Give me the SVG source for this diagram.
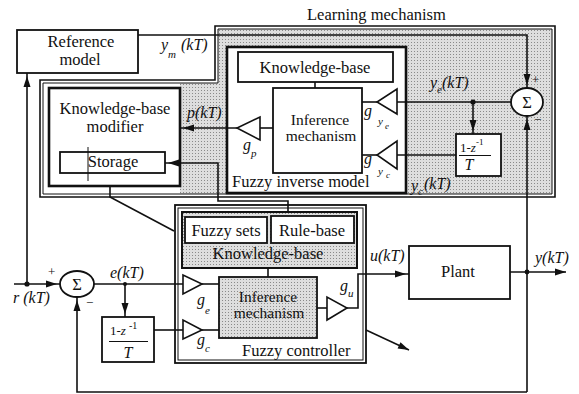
<svg xmlns="http://www.w3.org/2000/svg" width="579" height="394" viewBox="0 0 579 394">
  <defs>
    <pattern id="dots" width="3" height="3" patternUnits="userSpaceOnUse">
      <rect width="3" height="3" fill="#dedede"/>
      <rect width="1" height="1" fill="#8a8a8a"/>
    </pattern>
    <!-- arrowhead whose tip stops a little before the line end -->
    <marker id="arr" markerUnits="userSpaceOnUse" markerWidth="16" markerHeight="8" refX="14" refY="3.5" orient="auto" overflow="visible">
      <path d="M0,0 L11,3.5 L0,7 z" fill="#111"/>
    </marker>
    <!-- arrowhead whose tip sits on the line end -->
    <marker id="arrEnd" markerUnits="userSpaceOnUse" markerWidth="12" markerHeight="8" refX="11" refY="3.5" orient="auto" overflow="visible">
      <path d="M0,0 L11,3.5 L0,7 z" fill="#111"/>
    </marker>
    <style>
      .bx { fill:#fff; stroke:#111; stroke-width:1.8 }
      .thk { stroke-width:2.6 }
      .sh { fill:url(#dots) }
      .ln { fill:none; stroke:#111; stroke-width:1.6 }
      .thin { fill:none; stroke:#111; stroke-width:1 }
      .tri { fill:#fff; stroke:#111; stroke-width:1.6 }
      text { font-family:'Liberation Serif','DejaVu Serif',serif; fill:#111 }
      .t { font-size:16.5px }
      .ti { font-size:15.5px }
      .m { font-size:16px; font-style:italic }
      .s { font-size:11px; font-style:italic }
      .ss { font-size:9px; font-style:italic }
      .sg { font-size:13px }
      .c { text-anchor:middle }
    </style>
  </defs>

  <rect width="579" height="394" fill="#fff"/>

  <!-- Learning mechanism: L-shaped outline with stippled background -->
  <g id="learning-mechanism">
    <path d="M218,29 H552 V194 H180 V83 H218 z" class="sh"/>
    <path d="M215,26 H555 V197 H40 V80 H215 z" fill="none" stroke="#111" stroke-width="1.6"/>
    <path d="M218,29 H552 V194 H43 V83 H218 z" fill="none" stroke="#111" stroke-width="1"/>
    <text x="307" y="20" class="t">Learning mechanism</text>
  </g>

  <g id="reference-model">
    <rect x="17" y="30" width="121" height="43" class="bx"/>
    <text x="81" y="47" class="t c">Reference</text>
    <text x="80" y="65" class="t c">model</text>
  </g>

  <g id="kb-modifier">
    <rect x="49" y="88" width="131" height="98" class="bx thk"/>
    <text x="115" y="114" class="t c">Knowledge-base</text>
    <text x="115" y="132" class="t c">modifier</text>
  </g>

  <g id="storage">
    <rect x="60" y="152" width="105" height="21" class="bx"/>
    <text x="113" y="167" class="t c">Storage</text>
    <path d="M88,147 V181" class="thin"/>
  </g>

  <g id="fuzzy-inverse-model">
    <rect x="227" y="47" width="179" height="146" class="bx thk"/>
    <text x="232" y="187" class="t">Fuzzy inverse model</text>
  </g>

  <g id="inverse-kb">
    <rect x="238" y="52" width="155" height="30" class="bx"/>
    <text x="315" y="73" class="t c">Knowledge-base</text>
  </g>

  <g id="inverse-inference">
    <rect x="273" y="88" width="89" height="85" class="bx"/>
    <text x="320" y="125" class="ti c">Inference</text>
    <text x="321" y="141" class="ti c">mechanism</text>
  </g>

  <g id="gain-p">
    <path d="M260,117 L260,140 L237,128 z" class="tri"/>
    <text x="243" y="150" class="m">g</text><text x="251" y="157" class="s">p</text>
  </g>

  <g id="gain-ye">
    <path d="M397,89 L397,114 L377,102 z" class="tri"/>
    <text x="364" y="116" class="m">g</text><text x="378" y="125" class="s">y</text><text x="385" y="129" class="ss">e</text>
  </g>

  <g id="gain-yc">
    <path d="M397,141 L397,169 L377,155 z" class="tri"/>
    <text x="364" y="164" class="m">g</text><text x="378" y="175" class="s">y</text><text x="386" y="178" class="ss">c</text>
  </g>

  <g id="inverse-diff">
    <rect x="456" y="134" width="45" height="42" class="bx"/>
    <text x="460" y="152" class="sg">1-<tspan font-style="italic">z</tspan><tspan font-size="9" dy="-7">-1</tspan></text>
    <path d="M459,155.5 H491" class="thin"/>
    <text x="469" y="170" class="m c">T</text>
  </g>

  <g id="learning-sum">
    <ellipse cx="527" cy="102" rx="16" ry="14" class="bx"/>
    <text x="527" y="108" class="t c">Σ</text>
    <text x="532" y="84" class="sg">+</text>
    <text x="534" y="124" class="sg">−</text>
  </g>

  <g id="fuzzy-controller">
    <rect x="175" y="205" width="191" height="158" class="bx" stroke-width="1.6"/>
    <rect x="178" y="208" width="185" height="152" fill="none" stroke="#111" stroke-width="1"/>
    <text x="242" y="356" class="t">Fuzzy controller</text>
  </g>

  <g id="controller-kb">
    <rect x="182" y="212" width="175" height="56" class="sh" stroke="#111" stroke-width="2"/>
    <text x="268" y="259" class="t c">Knowledge-base</text>
  </g>

  <g id="fuzzy-sets">
    <rect x="185" y="217" width="82" height="26" class="bx"/>
    <text x="226" y="236" class="t c">Fuzzy sets</text>
  </g>

  <g id="rule-base">
    <rect x="271" y="216" width="83" height="27" class="bx"/>
    <text x="312" y="236" class="t c">Rule-base</text>
  </g>

  <g id="controller-inference">
    <rect x="219" y="277" width="98" height="61" class="sh" stroke="#111" stroke-width="1.8"/>
    <text x="268" y="302" class="ti c">Inference</text>
    <text x="269" y="318" class="ti c">mechanism</text>
  </g>

  <g id="gain-e">
    <path d="M183,275 L183,294 L202,284 z" class="tri"/>
    <text x="197" y="305" class="m">g</text><text x="205" y="314" class="s">e</text>
  </g>

  <g id="gain-c">
    <path d="M183,320 L183,339 L202,330 z" class="tri"/>
    <text x="197" y="345" class="m">g</text><text x="205" y="352" class="s">c</text>
  </g>

  <g id="gain-u">
    <path d="M327,297 L327,320 L347,308 z" class="tri"/>
    <text x="340" y="291" class="m">g</text><text x="348" y="297" class="s">u</text>
  </g>

  <g id="controller-diff">
    <rect x="102" y="317" width="52" height="45" class="bx"/>
    <text x="110" y="335" class="sg">1-<tspan font-style="italic">z</tspan><tspan font-size="10" dx="3" dy="-6">-1</tspan></text>
    <path d="M109,341.5 H148" class="thin"/>
    <text x="128" y="358" class="m c">T</text>
  </g>

  <g id="controller-sum">
    <ellipse cx="77" cy="284" rx="17" ry="13" class="bx"/>
    <text x="77" y="290" class="t c">Σ</text>
    <text x="48" y="276" class="sg">+</text>
    <text x="86" y="307" class="sg">−</text>
  </g>

  <g id="plant">
    <rect x="409" y="246" width="101" height="53" class="bx"/>
    <text x="458" y="277" class="t c">Plant</text>
  </g>

  <!-- signal lines -->
  <g id="connectors">
    <path d="M138,35 H527 V88" class="ln" marker-end="url(#arr)"/>
    <path d="M511,102 H397" class="ln"/>
    <path d="M473,102 V134" class="ln" marker-end="url(#arr)"/>
    <path d="M456,155 H397" class="ln"/>
    <path d="M377,102 H362" class="ln"/>
    <path d="M377,155 H362" class="ln"/>
    <path d="M315,82 V88" class="ln"/>
    <path d="M273,128 H260" class="ln"/>
    <path d="M237,128 H180" class="ln" marker-end="url(#arr)"/>
    <path d="M288,212 V201 H218 V163 H165" class="ln" marker-end="url(#arr)"/>
    <path d="M110,186 V197 L174,231" class="ln"/>
    <path d="M27,284 V73" class="ln" marker-end="url(#arr)"/>
    <path d="M14,284 H60" class="ln" marker-end="url(#arr)"/>
    <path d="M94,284 H183" class="ln"/>
    <path d="M125,284 V317" class="ln" marker-end="url(#arr)"/>
    <path d="M154,330 H183" class="ln"/>
    <path d="M202,284 H219" class="ln"/>
    <path d="M202,330 H219" class="ln"/>
    <path d="M268,268 V277" class="ln"/>
    <path d="M317,308 H327" class="ln"/>
    <path d="M347,308 H358 V274 H409" class="ln" marker-end="url(#arr)"/>
    <path d="M510,272 H566" class="ln" marker-end="url(#arrEnd)"/>
    <path d="M366,330 L409,350" class="ln" marker-end="url(#arrEnd)"/>
    <path d="M527,392 V116" class="ln" marker-end="url(#arr)"/>
    <path d="M527,392 H77 V297" class="ln" marker-end="url(#arr)"/>
    <circle cx="27" cy="284" r="2.6" fill="#111"/>
    <circle cx="125" cy="284" r="2" fill="#111"/>
    <circle cx="473" cy="102" r="2.6" fill="#111"/>
    <circle cx="527" cy="272" r="2.4" fill="#111"/>
  </g>

  <!-- signal names -->
  <g id="signal-labels">
    <text x="161" y="50" class="m">y</text><text x="168" y="58" class="s">m</text><text x="181" y="50" class="m">(kT)</text>
    <text x="430" y="88" class="m">y</text><text x="437" y="93" class="s">e</text><text x="442" y="88" class="m">(kT)</text>
    <text x="411" y="191" class="m">y</text><text x="418" y="195" class="s">c</text><text x="424" y="189" class="m">(kT)</text>
    <text x="187" y="118" class="m">p(kT)</text>
    <text x="110" y="278" class="m">e(kT)</text>
    <text x="370" y="261" class="m">u(kT)</text>
    <text x="535" y="263" class="m">y(kT)</text>
    <text x="13" y="303" class="m">r (kT)</text>
  </g>
</svg>
